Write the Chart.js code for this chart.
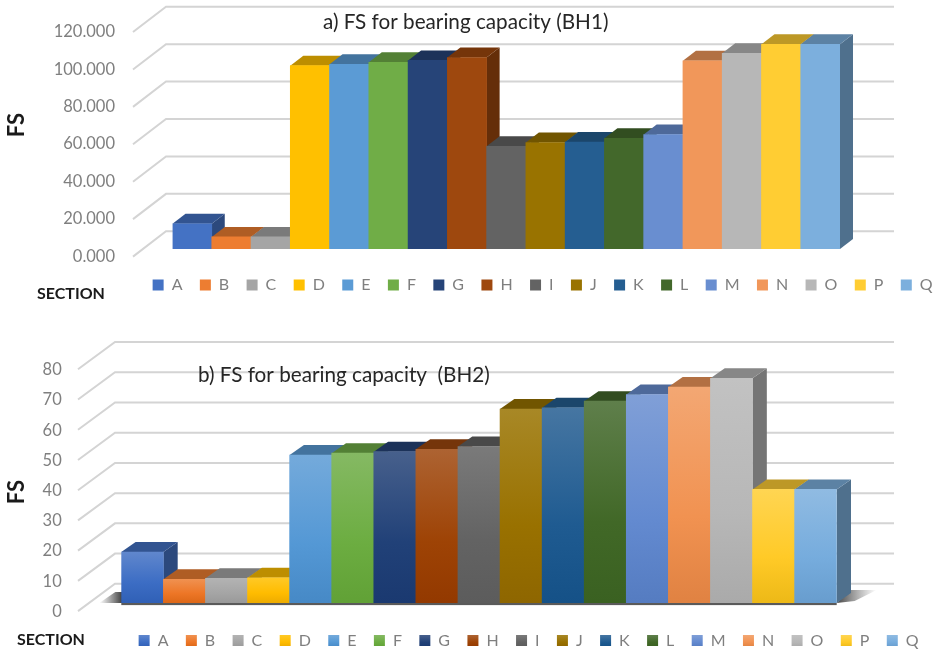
<!DOCTYPE html>
<html lang="en">
<head>
    <meta charset="UTF-8">
    <title>FS for bearing capacity</title>
    <script src="https://cdn.jsdelivr.net/npm/chart.js"></script>
    <style>
        html, body { margin: 0; padding: 0; background: #fff; overflow: hidden; }
        canvas { display: block; }
    </style>
</head>
<body>
    <canvas id="chartA" width="936" height="304"></canvas>
    <canvas id="chartB" width="936" height="349"></canvas>

    <script>
        const categories = ['A', 'B', 'C', 'D', 'E', 'F', 'G', 'H', 'I', 'J', 'K', 'L', 'M', 'N', 'O', 'P', 'Q'];
        const valuesA = [13.4, 6.4, 6.4, 97.9, 98.6, 99.7, 100.7, 102.2, 54.8, 56.8, 57.1, 59.1, 61.1, 100.5, 104.5, 109.3, 109.3];
        const valuesB = [16.9, 7.9, 8.2, 8.4, 49.0, 49.6, 50.1, 50.9, 51.8, 64.2, 64.6, 66.8, 69.0, 71.5, 74.4, 37.6, 37.6];
        const ticksA = [0, 20, 40, 60, 80, 100, 120];
        const ticksB = [0, 10, 20, 30, 40, 50, 60, 70, 80];
        const colors = ['#4472c4', '#ed7d31', '#a5a5a5', '#ffc000', '#5b9bd5', '#70ad47', '#264478', '#9e480e', '#636363',
            '#997300', '#255e91', '#43682b', '#698ed0', '#f1975a', '#b7b7b7', '#ffcd33', '#7cafdd'];

        const FONT = 'Lato, "Open Sans", sans-serif';

        function channels(hex) {
            return [1, 3, 5].map(i => parseInt(hex.substr(i, 2), 16));
        }

        // r,g,b mixed toward target (0 = black, 255 = white)
        function shade(hex, target, amount) {
            return 'rgb(' + channels(hex).map(p => Math.round(p + (target - p) * amount)).join(',') + ')';
        }

        // darker and a bit more saturated, for the lower part of the gradient
        function deepen(hex, dark, sat) {
            const parts = channels(hex);
            const max = Math.max(...parts);
            return 'rgb(' + parts.map(p => Math.max(0, Math.round(p * dark - (max - p) * sat))).join(',') + ')';
        }

        function glossy(ctx, color, top, bottom) {
            const g = ctx.createLinearGradient(0, top, 0, bottom);
            g.addColorStop(0, shade(color, 255, 0.15));
            g.addColorStop(0.6, deepen(color, 1, 0.06));
            g.addColorStop(1, deepen(color, 0.93, 0.12));
            return g;
        }

        // Walls, floor shadow and the top/side faces of the boxes.
        // Front faces are left to the normal bar drawing that follows.
        const box3d = {
            id: 'box3d',
            beforeDatasetsDraw(chart, args, opts) {
                const ctx = chart.ctx;
                const y = chart.scales.y;
                const meta = chart.getDatasetMeta(0);
                const wall = opts.wall;
                ctx.save();

                ctx.strokeStyle = '#d4d4d4';
                ctx.lineWidth = 2;
                opts.ticks.forEach(v => {
                    const py = y.getPixelForValue(v);
                    ctx.beginPath();
                    ctx.moveTo(wall.frontX, py + wall.frontDy);
                    ctx.lineTo(wall.backX, py + wall.backDy);
                    ctx.lineTo(wall.right, py + wall.backDy);
                    ctx.stroke();
                });

                const first = meta.data[0];
                const last = meta.data[meta.data.length - 1];
                const base = first.base;
                const x0 = first.x - first.width / 2;
                const x1 = last.x + last.width / 2;

                if (opts.shadow) {
                    let g = ctx.createLinearGradient(x0 - 22, 0, x0, 0);
                    g.addColorStop(0, 'rgba(70,70,70,0)');
                    g.addColorStop(1, 'rgba(50,50,50,0.9)');
                    ctx.fillStyle = g;
                    ctx.beginPath();
                    ctx.moveTo(x0 - 22, base);
                    ctx.lineTo(x0 - 6, base - 11);
                    ctx.lineTo(x0 + 2, base - 11);
                    ctx.lineTo(x0 + 2, base);
                    ctx.fill();

                    g = ctx.createLinearGradient(x1, 0, x1 + 40, 0);
                    g.addColorStop(0, 'rgba(50,50,50,0.9)');
                    g.addColorStop(1, 'rgba(90,90,90,0)');
                    ctx.fillStyle = g;
                    ctx.beginPath();
                    ctx.moveTo(x1, base);
                    ctx.lineTo(x1 + 14, base - 13);
                    ctx.lineTo(x1 + 40, base - 13);
                    ctx.lineTo(x1 + 18, base - 2);
                    ctx.fill();

                    ctx.fillStyle = '#5a5a5a';
                    ctx.fillRect(x0, base - 0.5, x1 - x0, 2.5);
                }

                // left to right so each box covers the side of the one before it
                meta.data.forEach((bar, i) => {
                    const l = bar.x - bar.width / 2;
                    const r = bar.x + bar.width / 2;
                    const t = bar.y;
                    const b = bar.base;
                    ctx.fillStyle = shade(colors[i], 0, 0.36);
                    ctx.beginPath();
                    ctx.moveTo(r, t);
                    ctx.lineTo(r + opts.dx, t - opts.dy);
                    ctx.lineTo(r + opts.dx, b - opts.dy);
                    ctx.lineTo(r, b);
                    ctx.fill();

                    ctx.fillStyle = shade(colors[i], 0, 0.26);
                    ctx.beginPath();
                    ctx.moveTo(l, t);
                    ctx.lineTo(l + opts.dx, t - opts.dy);
                    ctx.lineTo(r + opts.dx, t - opts.dy);
                    ctx.lineTo(r, t);
                    ctx.fill();
                });
                ctx.restore();
            },
            afterDraw(chart, args, opts) {
                const ctx = chart.ctx;
                ctx.save();
                ctx.textBaseline = 'middle';
                ctx.textAlign = 'left';

                ctx.fillStyle = '#262626';
                ctx.font = '20.7px ' + FONT;
                ctx.fillText(opts.title.text, opts.title.x, opts.title.y);

                ctx.fillStyle = '#1a1a1a';
                ctx.font = 'bold 16px ' + FONT;
                ctx.fillText('SECTION', opts.section.x, opts.section.y);

                ctx.translate(opts.fs.x, opts.fs.y);
                ctx.rotate(-Math.PI / 2);
                ctx.textAlign = 'center';
                ctx.font = 'bold 22px ' + FONT;
                ctx.fillText('FS', 0, 0);
                ctx.restore();
            }
        };

        function makeChart(id, values, ticks, fmt, cfg) {
            const canvas = document.getElementById(id);
            const c2d = canvas.getContext('2d');
            return new Chart(canvas, {
                type: 'bar',
                data: {
                    labels: categories,
                    datasets: [{
                        data: values,
                        borderWidth: 0,
                        categoryPercentage: 1,
                        barPercentage: 1,
                        backgroundColor: cfg.gradient ? (c) => {
                            const scale = c.chart.scales.y;
                            const top = scale.getPixelForValue(c.raw);
                            const bottom = scale.getPixelForValue(0);
                            if (!isFinite(top) || !isFinite(bottom)) return colors[c.dataIndex];
                            return glossy(c.chart.ctx, colors[c.dataIndex], top, bottom);
                        } : colors
                    }]
                },
                plugins: [box3d],
                options: {
                    responsive: false,
                    animation: false,
                    layout: { padding: cfg.padding },
                    scales: {
                        x: {
                            grid: { display: false },
                            border: { display: false },
                            ticks: { display: false },
                            afterFit: s => { s.height = cfg.gapBelow; }
                        },
                        y: {
                            min: 0,
                            max: ticks[ticks.length - 1],
                            grid: { display: false, drawTicks: false },
                            border: { display: false },
                            afterBuildTicks: s => { s.ticks = ticks.map(v => ({ value: v })); },
                            // tick padding also reserves room above and below, drop that
                            afterFit: s => {
                                s.width = cfg.axisWidth;
                                s.paddingTop = 0;
                                s.paddingBottom = 0;
                            },
                            ticks: {
                                padding: cfg.tickPadding,
                                labelOffset: cfg.labelOffset,
                                color: '#7f7f7f',
                                font: { family: FONT, size: 16.5 },
                                callback: fmt
                            }
                        },
                        // empty axis that only holds the room to the right of the bars
                        pad: {
                            position: 'right',
                            grid: { display: false },
                            border: { display: false },
                            ticks: { display: false },
                            afterFit: s => { s.width = cfg.rightRoom; }
                        }
                    },
                    plugins: {
                        tooltip: { enabled: false },
                        legend: {
                            position: 'bottom',
                            align: 'end',
                            labels: {
                                boxWidth: 11,
                                boxHeight: 11,
                                padding: cfg.legendPadding,
                                color: '#7f7f7f',
                                font: { family: FONT, size: 16 },
                                generateLabels: () => categories.map((name, i) => ({
                                    text: name,
                                    fillStyle: cfg.gradient ? glossy(c2d, colors[i], cfg.legendY, cfg.legendY + 12) : colors[i],
                                    strokeStyle: 'rgba(0,0,0,0)',
                                    lineWidth: 0,
                                    fontColor: '#7f7f7f',
                                    index: i
                                }))
                            }
                        },
                        box3d: {
                            ticks: ticks,
                            dx: cfg.dx,
                            dy: cfg.dy,
                            shadow: cfg.gradient,
                            wall: cfg.wall,
                            title: cfg.title,
                            section: cfg.section,
                            fs: cfg.fs
                        }
                    }
                }
            });
        }

        makeChart('chartA', valuesA, ticksA, v => v.toFixed(3), {
            padding: { top: 24.3, right: -14, bottom: 1, left: 0 },
            axisWidth: 172.5,
            rightRoom: 110,
            gapBelow: 10.7,
            tickPadding: 57.5,
            labelOffset: 7.5,
            legendPadding: 17.4,
            dx: 13,
            dy: 10,
            wall: { frontX: 133, frontDy: 7.7, backX: 166, backDy: -17.6, right: 894 },
            title: { text: 'a) FS for bearing capacity (BH1)', x: 323, y: 22 },
            section: { x: 37, y: 294 },
            fs: { x: 17, y: 125 }
        });

        makeChart('chartB', valuesB, ticksB, v => String(v), {
            padding: { top: 57.3, right: 0, bottom: -5.5, left: 0 },
            axisWidth: 121.3,
            rightRoom: 99.3,
            gapBelow: 12,
            tickPadding: 59.6,
            labelOffset: 8.5,
            legendPadding: 17.4,
            gradient: true,
            legendY: 331,
            dx: 14.3,
            dy: 10,
            wall: { frontX: 78, frontDy: 8, backX: 115, backDy: -19.3, right: 894 },
            title: { text: 'b) FS for bearing capacity  (BH2)', x: 198, y: 71 },
            section: { x: 17, y: 336 },
            fs: { x: 17, y: 188 }
        });
    </script>
</body>
</html>
